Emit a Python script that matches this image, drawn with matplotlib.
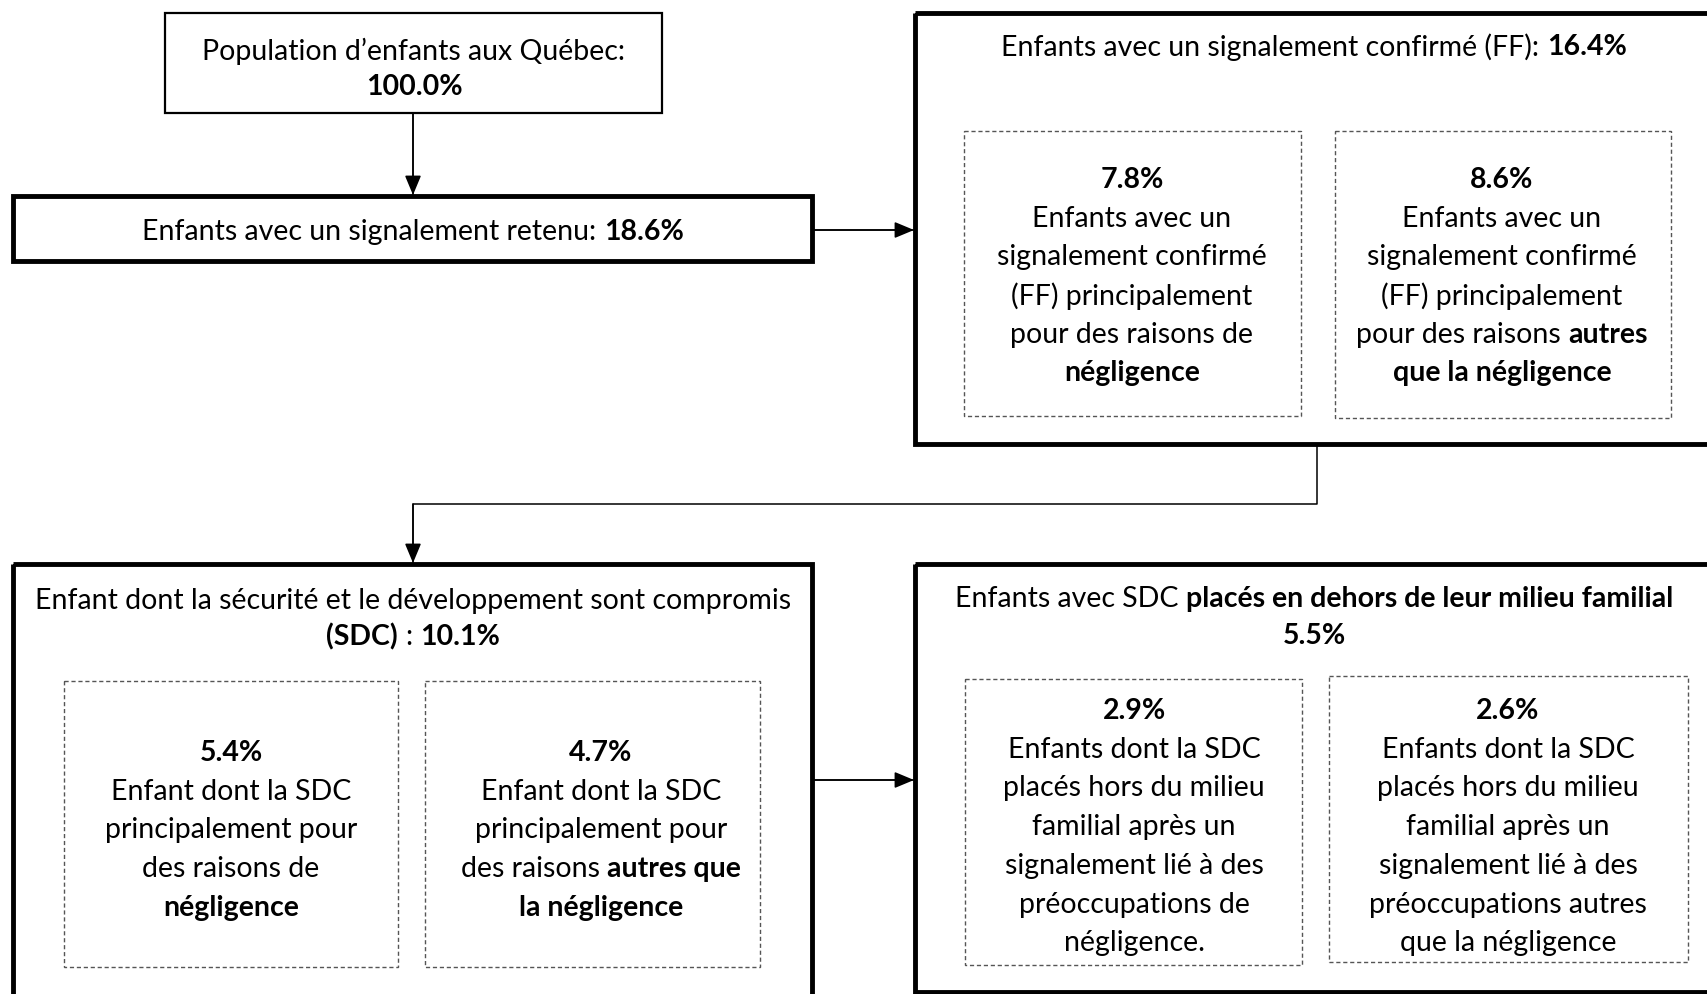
import matplotlib.pyplot as plt
from matplotlib.patches import Rectangle

# Percentages shown in the flowchart
pct_total = "100.0%"
pct_retenu = "18.6%"
pct_ff = "16.4%"
pct_ff_neg = "7.8%"
pct_ff_autre = "8.6%"
pct_sdc = "10.1%"
pct_sdc_neg = "5.4%"
pct_sdc_autre = "4.7%"
pct_place = "5.5%"
pct_place_neg = "2.9%"
pct_place_autre = "2.6%"

# Box texts: each line is a list of (text, bold) segments
txt_pop = [[("Population d\u2019enfants aux Québec:", False)], [(pct_total, True)]]
txt_retenu = [[("Enfants avec un signalement retenu:", False), (pct_retenu, True)]]
txt_ff = [[("Enfants avec un signalement confirmé (FF):", False), (pct_ff, True)]]
txt_ff_neg = [[(pct_ff_neg, True)], [("Enfants avec un", False)], [("signalement confirmé", False)],
              [("(FF) principalement", False)], [("pour des raisons de", False)], [("négligence", True)]]
txt_ff_autre = [[(pct_ff_autre, True)], [("Enfants avec un", False)], [("signalement confirmé", False)],
                [("(FF) principalement", False)], [("pour des raisons", False), ("autres", True)],
                [("que la négligence", True)]]
txt_sdc = [[("Enfant dont la sécurité et le développement sont compromis", False)],
           [("(SDC)", True), (":", False), (pct_sdc, True)]]
txt_sdc_neg = [[(pct_sdc_neg, True)], [("Enfant dont la SDC", False)], [("principalement pour", False)],
               [("des raisons de", False)], [("négligence", True)]]
txt_sdc_autre = [[(pct_sdc_autre, True)], [("Enfant dont la SDC", False)], [("principalement pour", False)],
                 [("des raisons", False), ("autres que", True)], [("la négligence", True)]]
txt_place = [[("Enfants avec SDC", False), ("placés en dehors de leur milieu familial", True)],
             [(pct_place, True)]]
txt_place_neg = [[(pct_place_neg, True)], [("Enfants dont la SDC", False)], [("placés hors du milieu", False)],
                 [("familial après un", False)], [("signalement lié à des", False)],
                 [("préoccupations de", False)], [("négligence.", False)]]
txt_place_autre = [[(pct_place_autre, True)], [("Enfants dont la SDC", False)], [("placés hors du milieu", False)],
                   [("familial après un", False)], [("signalement lié à des", False)],
                   [("préoccupations autres", False)], [("que la négligence", False)]]

W, H = 1707, 994
fig = plt.figure(figsize=(W / 100, H / 100), dpi=100)
ax = fig.add_axes([0, 0, 1, 1])
ax.set_xlim(0, W)
ax.set_ylim(H, 0)
ax.axis("off")

FONT = ["Lato", "DejaVu Sans"]
FS = 20.5
renderer = fig.canvas.get_renderer()


def width(s, bold):
    t = ax.text(0, 0, s, fontsize=FS, family=FONT, fontweight="bold" if bold else "normal")
    w = t.get_window_extent(renderer).width
    t.remove()
    return w


SPACE = width("a a", False) - width("aa", False)


def write(lines, cx, y0, dy):
    for i, segs in enumerate(lines):
        ws = [width(s, b) for s, b in segs]
        total = sum(ws) + SPACE * (len(segs) - 1)
        x = cx - total / 2
        for (s, b), w in zip(segs, ws):
            ax.text(x, y0 + i * dy, s, fontsize=FS, family=FONT,
                    fontweight="bold" if b else "normal", va="center", ha="left")
            x += w + SPACE


def box(x0, y0, x1, y1, lw, dashed=False):
    ax.add_patch(Rectangle((x0, y0), x1 - x0, y1 - y0, fill=False,
                           lw=lw, ec="#555555" if dashed else "black",
                           ls=(0, (3, 2)) if dashed else "-"))


def arrow(pts):
    xs, ys = zip(*pts)
    ax.plot(xs, ys, color="black", lw=1.1)
    ax.annotate("", xy=pts[-1], xytext=pts[-2],
                arrowprops=dict(arrowstyle="-|>,head_length=1.2,head_width=0.5",
                                color="black", lw=1.1, shrinkA=0, shrinkB=0))


# outer boxes
box(165, 13, 662, 113, 1.6)
box(13, 196, 812, 261, 3.5)
box(915, 13, 1712, 444, 3.5)
box(13, 564, 812, 1010, 3.5)
box(915, 564, 1712, 992, 3.5)
# inner dashed boxes
box(964, 131, 1301, 416, 1, True)
box(1335, 131, 1671, 418, 1, True)
box(64, 681, 398, 967, 1, True)
box(425, 681, 760, 967, 1, True)
box(965, 679, 1302, 965, 1, True)
box(1329, 676, 1688, 962, 1, True)

# connectors
arrow([(413, 113), (413, 195)])
arrow([(812, 230), (914, 230)])
arrow([(1317, 444), (1317, 504), (413, 504), (413, 563)])
arrow([(812, 780), (914, 780)])

# texts
LS = 38.7
write(txt_pop, 414, 51, 36)
write(txt_retenu, 413, 232, 36)
write(txt_ff, 1314, 47, 36)
write(txt_ff_neg, 1132, 180, LS)
write(txt_ff_autre, 1502, 180, LS)
write(txt_sdc, 413, 601, 36)
write(txt_sdc_neg, 231, 753, LS)
write(txt_sdc_autre, 601, 753, LS)
write(txt_place, 1314, 599, 37)
write(txt_place_neg, 1134, 711, LS)
write(txt_place_autre, 1508, 711, LS)

fig.savefig("out.png", dpi=100)
